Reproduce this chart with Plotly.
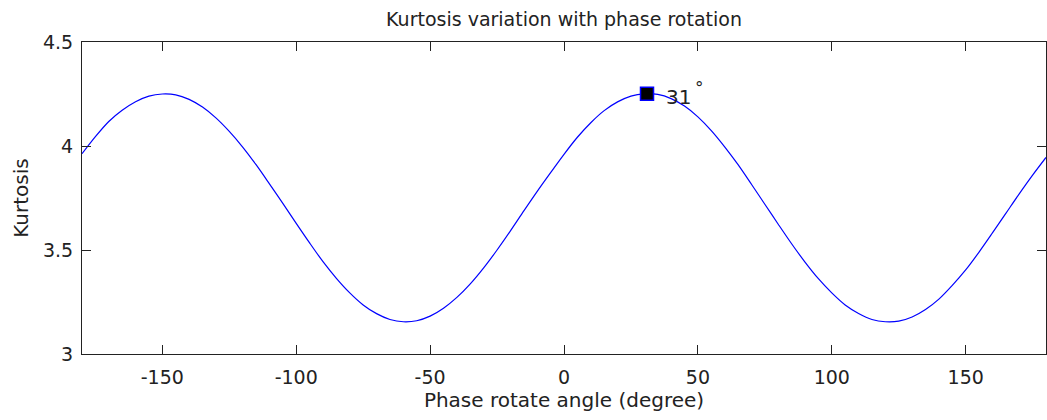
import plotly.graph_objects as go

# Phase rotation angle (degrees), sampled every 5 degrees
angle_deg = [
    -180, -175, -170, -165, -160, -155, -150, -145, -140, -135, -130, -125,
    -120, -115, -110, -105, -100, -95, -90, -85, -80, -75, -70, -65,
    -60, -55, -50, -45, -40, -35, -30, -25, -20, -15, -10, -5,
    0, 5, 10, 15, 20, 25, 30, 35, 40, 45, 50, 55,
    60, 65, 70, 75, 80, 85, 90, 95, 100, 105, 110, 115,
    120, 125, 130, 135, 140, 145, 150, 155, 160, 165, 170, 175, 180,
]

# Kurtosis of the phase-rotated trace
kurtosis = [
    3.963, 4.045, 4.118, 4.172, 4.213, 4.240, 4.250, 4.246, 4.224, 4.187, 4.135, 4.070,
    3.995, 3.910, 3.818, 3.724, 3.628, 3.534, 3.444, 3.364, 3.294, 3.236, 3.194, 3.166,
    3.155, 3.160, 3.182, 3.220, 3.272, 3.337, 3.414, 3.500, 3.592, 3.688, 3.782, 3.872,
    3.960, 4.042, 4.112, 4.170, 4.212, 4.240, 4.251, 4.248, 4.228, 4.192, 4.140, 4.074,
    3.996, 3.910, 3.816, 3.720, 3.624, 3.530, 3.442, 3.362, 3.294, 3.236, 3.195, 3.166,
    3.155, 3.158, 3.178, 3.214, 3.264, 3.330, 3.404, 3.490, 3.582, 3.676, 3.770, 3.860, 3.945,
]

# Axis ticks
x_tick_vals = [-150, -100, -50, 0, 50, 100, 150]
x_tick_text = ["-150", "-100", "-50", "0", "50", "100", "150"]
y_tick_vals = [3, 3.5, 4, 4.5]
y_tick_text = ["3", "3.5", "4", "4.5"]

# Angle of maximum kurtosis
peak_angle = 31
peak_kurtosis = 4.251

ink = "#222222"
font_family = "DejaVu Sans"

fig = go.Figure()

fig.add_trace(go.Scatter(
    x=angle_deg, y=kurtosis,
    mode="lines",
    line=dict(color="#0000ff", width=1.2, shape="spline", smoothing=0.8),
    showlegend=False,
    hoverinfo="skip",
))

fig.add_trace(go.Scatter(
    x=[peak_angle], y=[peak_kurtosis],
    mode="markers",
    marker=dict(symbol="square", size=13, color="#000000",
                line=dict(color="#0000ff", width=1.5)),
    showlegend=False,
    hoverinfo="skip",
))

fig.add_annotation(
    x=peak_angle, y=peak_kurtosis, xref="x", yref="y",
    text=str(peak_angle), showarrow=False,
    xanchor="left", yanchor="middle", xshift=17, yshift=-3,
    font=dict(family=font_family, size=20, color=ink),
)
fig.add_annotation(
    x=peak_angle, y=peak_kurtosis, xref="x", yref="y",
    text="°", showarrow=False,
    xanchor="left", yanchor="middle", xshift=46, yshift=6,
    font=dict(family=font_family, size=17, color=ink),
)

axis_common = dict(
    showline=True, linecolor=ink, linewidth=1, mirror="ticks",
    ticks="inside", ticklen=9, tickwidth=1, tickcolor=ink,
    showgrid=False, zeroline=False,
    tickfont=dict(family=font_family, size=19, color=ink),
)

fig.update_xaxes(
    range=[-180, 180], tickvals=x_tick_vals, ticktext=x_tick_text,
    title=dict(text="Phase rotate angle (degree)", standoff=6,
               font=dict(family=font_family, size=20, color=ink)),
    ticklabelstandoff=6,
    **axis_common,
)
fig.update_yaxes(
    range=[3, 4.5], tickvals=y_tick_vals, ticktext=y_tick_text,
    title=dict(text="Kurtosis", standoff=8,
               font=dict(family=font_family, size=20, color=ink)),
    ticklabelstandoff=4,
    **axis_common,
)

fig.update_layout(
    width=1047, height=420,
    margin=dict(l=82, r=1, t=42, b=66),
    paper_bgcolor="#ffffff", plot_bgcolor="#ffffff",
    title=dict(text="Kurtosis variation with phase rotation",
               x=0.5, xanchor="center", xref="paper",
               y=1 - 19 / 420, yref="container", yanchor="middle",
               font=dict(family=font_family, size=19, color=ink)),
)

fig.write_html("out.html")
